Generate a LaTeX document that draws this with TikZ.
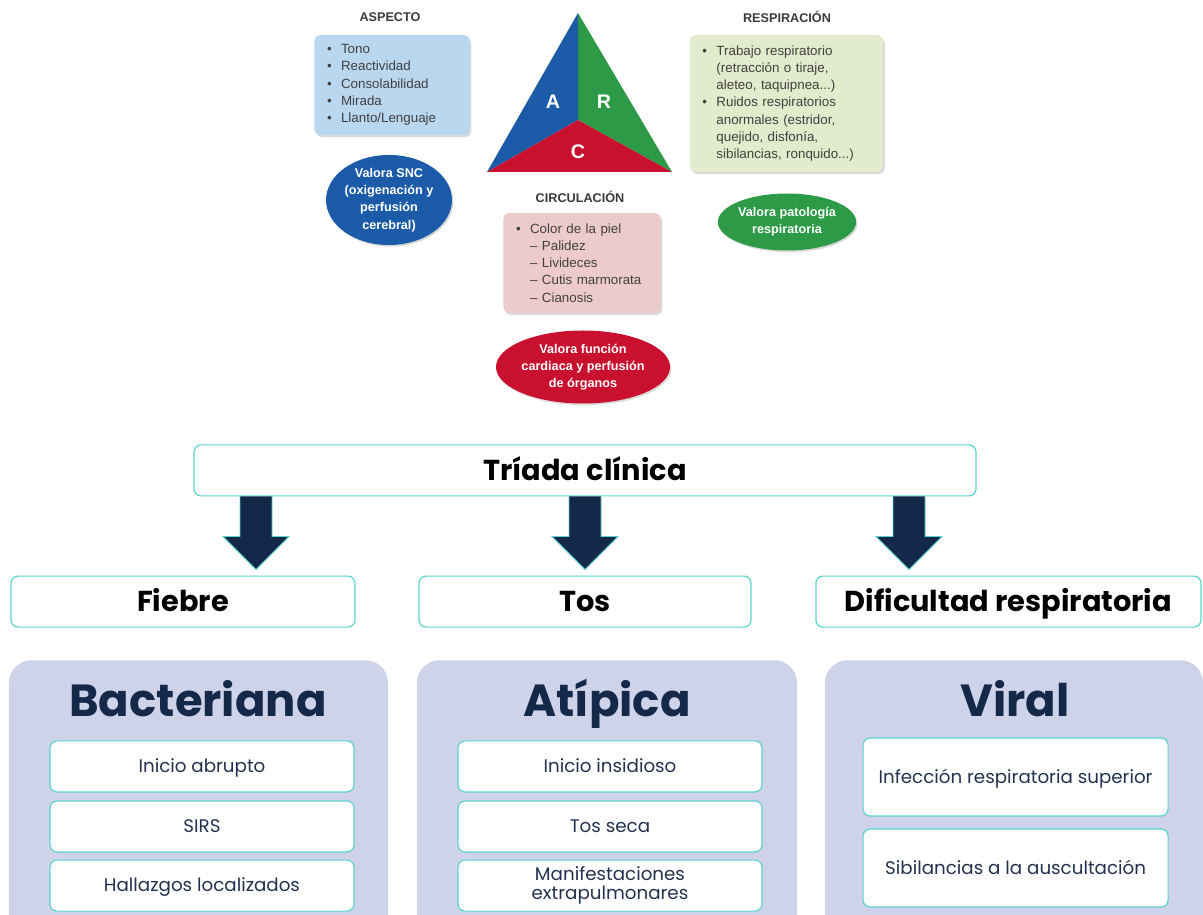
\documentclass[tikz,border=0pt]{standalone}
\usepackage{fontspec}
\setmainfont{Liberation Sans}
\newfontfamily\mont{Poppins}
\usetikzlibrary{calc,positioning,shapes.geometric,shadows}
\definecolor{ink}{HTML}{14294A}
\definecolor{itemink}{HTML}{24324F}
\definecolor{teal}{HTML}{5CD3CC}
\definecolor{groupfill}{HTML}{CFD3EA}
\definecolor{headgray}{HTML}{3A3A3A}
\definecolor{cardtext}{HTML}{404040}
\definecolor{triblue}{HTML}{1C5BA8}
\definecolor{trigreen}{HTML}{2D9A47}
\definecolor{trired}{HTML}{C9102F}
\definecolor{bluefill}{HTML}{BAD7F0}
\definecolor{greenfill}{HTML}{E2EBCB}
\definecolor{pinkfill}{HTML}{EECBCB}
\newcommand{\nine}{\fontsize{9}{12.3}\selectfont}
\newcommand{\cardfont}{\fontsize{9.5}{12.25}\selectfont}
\newcommand{\twelve}{\fontsize{13}{15}\selectfont}
\newcommand{\signfont}{\fontsize{20.5}{24}\selectfont}
\newcommand{\bigfont}{\fontsize{32}{36}\selectfont}
\newcommand{\bul}{\makebox[10pt][l]{\textbullet}}
\newcommand{\ind}{\hspace*{10pt}}
\tikzset{
 every node/.append style={align=center},
 head/.style={font=\nine\bfseries,text=headgray,inner sep=1pt},
 card/.style={rounded corners=4pt,align=left,font=\cardfont,text=cardtext,inner xsep=9pt,inner ysep=2pt,
   drop shadow={shadow xshift=1.2pt,shadow yshift=-1.5pt,opacity=.3}},
 oval/.style={ellipse,inner sep=0pt,font=\nine\bfseries,text=white,
   drop shadow={shadow xshift=1pt,shadow yshift=-1.2pt,opacity=.3}},
 letter/.style={font=\fontsize{14}{16}\selectfont\bfseries,text=white,inner sep=0pt},
 frame/.style={draw=teal,line width=.85pt,fill=white,rounded corners=5pt,minimum height=12.75mm,inner sep=2pt},
 sign/.style={frame,font=\mont\signfont\bfseries,text=black,text height=17pt,text depth=3pt},
 item/.style={frame,minimum width=76mm,font=\mont\twelve,text=itemink},
 oneline/.style={text height=11pt,text depth=2pt},
 group/.style={fill=groupfill,rounded corners=16pt,minimum height=70mm},
 grouptitle/.style={font=\mont\bigfont\bfseries,text=ink,inner sep=0pt,anchor=base},
 bigarrow/.style={fill=ink,draw=teal,line width=.6pt},
}

\begin{document}
\begin{tikzpicture}
\useasboundingbox (0,0) rectangle (30.075,-22.875);
\clip (0,0) rectangle (30.075,-22.875);

\node[head] (aspecto) at (9.75,-.425) {ASPECTO};
\node[card,fill=bluefill,minimum width=3.7cm,minimum height=2.5cm,text width=3.25cm] (aspbox) at (9.8,-2.125) {
  \bul Tono\\
  \bul Reactividad\\
  \bul Consolabilidad\\
  \bul Mirada\\
  \bul Llanto/Lenguaje};
\node[oval,fill=triblue,minimum width=3.15cm,minimum height=2.25cm] (aspoval) at (9.725,-5.0)
  {Valora SNC\\(oxigenación y\\perfusión\\cerebral)};

\coordinate (apex) at (14.45,-.325);
\coordinate (bl) at (12.175,-4.3);
\coordinate (br) at (16.8,-4.3);
\coordinate (mid) at (14.45,-3.0);
\fill[triblue] (apex) -- (mid) -- (bl) -- cycle;
\fill[trigreen] (apex) -- (br) -- (mid) -- cycle;
\fill[trired] (bl) -- (mid) -- (br) -- cycle;
\node[letter] (la) at (13.825,-2.55) {A};
\node[letter] (lr) at (15.1,-2.55) {R};
\node[letter] (lc) at (14.45,-3.8) {C};

\node[head] (circ) at (14.5,-4.925) {CIRCULACIÓN};
\node[card,fill=pinkfill,minimum width=3.75cm,minimum height=2.5cm,text width=3.3cm] (circbox) at (14.55,-6.575) {
  \bul Color de la piel\\
  \ind – Palidez\\
  \ind – Livideces\\
  \ind – Cutis marmorata\\
  \ind – Cianosis};
\node[oval,fill=trired,minimum width=4.075cm,minimum height=1.825cm] (circoval) at (14.575,-9.175)
  {Valora función\\cardiaca y perfusión\\de órganos};

\node[head] (resp) at (19.675,-.425) {RESPIRACIÓN};
\node[card,fill=greenfill,minimum width=4.675cm,minimum height=3.425cm,text width=4.2cm] (respbox) at (19.66,-2.5875) {
  \bul Trabajo respiratorio\\
  \ind (retracción o tiraje,\\
  \ind aleteo, taquipnea...)\\
  \bul Ruidos respiratorios\\
  \ind anormales (estridor,\\
  \ind quejido, disfonía,\\
  \ind sibilancias, ronquido...)};
\node[oval,fill=trigreen,minimum width=3.275cm,minimum height=1.425cm] (respoval) at (19.675,-5.55)
  {Valora patología\\respiratoria};

\node[sign,minimum width=19.55cm] (triada) at (14.625,-11.76) {Tríada clínica};
\node[sign,minimum width=8.6cm] (fiebre) at (4.575,-15.04) {Fiebre};
\node[sign,minimum width=8.3cm] (tos) at (14.625,-15.04) {Tos};
\node[sign,minimum width=9.625cm] (dific) at (25.21,-15.04) {Dificultad respiratoria};

\foreach \dx/\tgt in {-8.225/fiebre,0/tos,8.1/dific}{
  \coordinate (root) at ($(triada.south)+(\dx,0)$);
  \coordinate (tip) at ($(root |- \tgt.north)+(0,.15)$);
  \draw[bigarrow] ($(root)+(-.4,0)$) -- ($(tip)+(-.4,.825)$) -- ($(tip)+(-.825,.825)$) -- (tip)
    -- ($(tip)+(.825,.825)$) -- ($(tip)+(.4,.825)$) -- ($(root)+(.4,0)$);
}

\node[group,minimum width=9.475cm,anchor=north] (bact) at (4.9625,-16.5) {};
\node[group,minimum width=9.5cm,anchor=north] (atip) at (15.175,-16.5) {};
\node[group,minimum width=9.45cm,anchor=north] (viral) at (25.35,-16.5) {};

\node[grouptitle] (bacttitle) at (4.95,-17.9) {Bacteriana};
\node[grouptitle] (atiptitle) at (15.175,-17.9) {Atípica};
\node[grouptitle] (viraltitle) at (25.375,-17.9) {Viral};

\node[item,oneline] (b1) at (5.05,-19.16) {Inicio abrupto};
\node[item,oneline] (b2) at (5.05,-20.66) {SIRS};
\node[item,oneline] (b3) at (5.05,-22.14) {Hallazgos localizados};

\node[item,oneline] (a1) at (15.25,-19.16) {Inicio insidioso};
\node[item,oneline] (a2) at (15.25,-20.66) {Tos seca};
\node[item,font=\mont\fontsize{13}{13.5}\selectfont] (a3) at (15.25,-22.14) {Manifestaciones\\extrapulmonares};

\node[item,oneline,minimum width=76.25mm,minimum height=19.5mm] (v1) at (25.39,-19.425) {Infección respiratoria superior};
\node[item,oneline,minimum width=76.25mm,minimum height=19.5mm] (v2) at (25.39,-21.7) {Sibilancias a la auscultación};
\end{tikzpicture}
\end{document}
